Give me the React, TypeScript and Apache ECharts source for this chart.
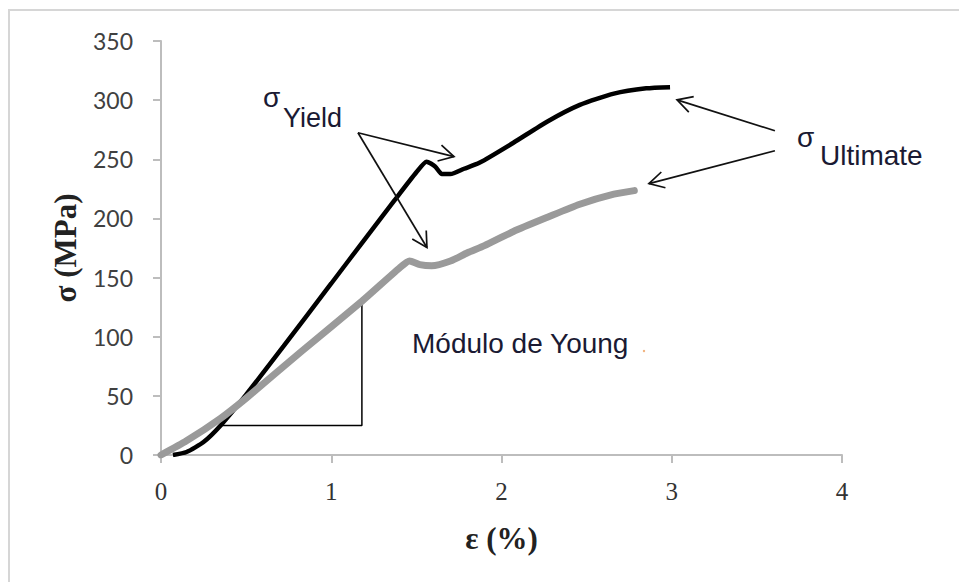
import { useEffect, useRef } from "react";
import * as echarts from "echarts";

// Black curve (higher-strength specimen)
const strainBlack = [0.07, 0.15, 0.25, 0.35, 0.5, 0.72, 1.0, 1.2, 1.37, 1.5, 1.56, 1.61, 1.65, 1.7, 1.78, 1.87, 2.07, 2.27, 2.46, 2.66, 2.85, 2.99];
const stressBlack = [0, 2.5, 11, 25, 51, 92, 145, 183, 215, 239, 248, 244, 237.5, 237.5, 242, 247, 264, 282, 296, 305.5, 310, 311];

// Gray curve (lower-strength specimen)
const strainGray = [0, 0.15, 0.35, 0.5, 0.82, 1.18, 1.4, 1.46, 1.52, 1.59, 1.7, 1.8, 1.9, 2.07, 2.27, 2.46, 2.66, 2.78];
const stressGray = [0, 12, 31, 48, 87, 130, 158, 164, 161, 160, 164, 171, 177, 189, 201, 212, 220.5, 223.5];

// Young's modulus triangle (strain, stress)
const triangleStrain = [0.35, 1.18, 1.18];
const triangleStress = [25, 25, 133];

// Annotation arrows: [fromStrain, fromStress] -> [toStrain, toStress]
const arrowFrom = [
  [1.157, 272.4],
  [1.157, 272.4],
  [3.606, 274.1],
  [3.606, 257.2],
];
const arrowTo = [
  [1.721, 252.2],
  [1.562, 175.4],
  [3.031, 300.2],
  [2.866, 229.4],
];

const xTicks = [0, 1, 2, 3, 4];
const yTicks = [0, 50, 100, 150, 200, 250, 300, 350];

const annColor = "#1a1a33";
const sans = "'Liberation Sans', Arial, sans-serif";

export default function App() {
  const ref = useRef<HTMLDivElement>(null);
  useEffect(() => {
    const chart = echarts.init(ref.current!, null, { renderer: "svg" });
    const pair = (xs: number[], ys: number[]) => xs.map((x, i) => [x, ys[i]]);
    const arrows = arrowFrom.map((f, i) => [f[0], f[1], arrowTo[i][0], arrowTo[i][1]]);
    chart.setOption({
      animation: false,
      backgroundColor: "#ffffff",
      grid: { left: 161, right: 117, top: 41, bottom: 127, outerBoundsMode: "none", containLabel: false },
      xAxis: {
        type: "value",
        min: xTicks[0],
        max: xTicks[xTicks.length - 1],
        interval: 1,
        name: "ε (%)",
        nameLocation: "middle",
        nameGap: 68,
        nameTextStyle: { fontFamily: "'Liberation Serif', serif", fontWeight: "bold", fontSize: 31, color: "#222" },
        axisLine: { show: true, lineStyle: { color: "#bdbdbd", width: 2 } },
        axisTick: { show: true, length: 8, lineStyle: { color: "#bdbdbd", width: 2 } },
        axisLabel: { margin: 24, fontFamily: "'Liberation Serif', serif", fontSize: 25, color: "#333" },
        splitLine: { show: false },
      },
      yAxis: {
        type: "value",
        min: yTicks[0],
        max: yTicks[yTicks.length - 1],
        interval: 50,
        name: "σ (MPa)",
        nameLocation: "middle",
        nameGap: 80,
        nameTextStyle: { fontFamily: "'Liberation Serif', serif", fontWeight: "bold", fontSize: 31, color: "#222" },
        axisLine: { show: true, lineStyle: { color: "#bdbdbd", width: 2 } },
        axisTick: { show: true, length: 8, lineStyle: { color: "#bdbdbd", width: 2 } },
        axisLabel: { margin: 28, fontFamily: "Lato, sans-serif", fontSize: 23, color: "#404040" },
        splitLine: { show: false },
      },
      series: [
        {
          type: "line",
          data: pair(triangleStrain, triangleStress),
          showSymbol: false,
          lineStyle: { color: "#000", width: 1.5 },
          z: 1,
        },
        {
          type: "line",
          data: pair(strainBlack, stressBlack),
          showSymbol: false,
          smooth: 0.2,
          lineStyle: { color: "#000", width: 4.5 },
          z: 2,
        },
        {
          type: "line",
          data: pair(strainGray, stressGray),
          showSymbol: false,
          smooth: 0.2,
          lineStyle: { color: "#9a9a9a", width: 7, cap: "round" },
          z: 3,
        },
        {
          type: "custom",
          data: arrows,
          z: 4,
          clip: false,
          renderItem: (_params: any, api: any) => {
            const p1 = api.coord([api.value(0), api.value(1)]);
            const p2 = api.coord([api.value(2), api.value(3)]);
            const ang = Math.atan2(p2[1] - p1[1], p2[0] - p1[0]);
            const L = 17;
            const a = 0.5;
            const h1 = [p2[0] - L * Math.cos(ang - a), p2[1] - L * Math.sin(ang - a)];
            const h2 = [p2[0] - L * Math.cos(ang + a), p2[1] - L * Math.sin(ang + a)];
            return {
              type: "group",
              children: [
                { type: "line", shape: { x1: p1[0], y1: p1[1], x2: p2[0], y2: p2[1] }, style: { stroke: "#111", lineWidth: 1.7 } },
                { type: "polyline", shape: { points: [h1, p2, h2] }, style: { stroke: "#111", lineWidth: 1.7, fill: null } },
              ],
            };
          },
        },
      ],
      graphic: [
        { type: "rect", shape: { x: 9, y: 10, width: 1000, height: 700 }, style: { fill: "transparent", stroke: "#d6d6d6", lineWidth: 2 }, silent: true },
        { type: "text", x: 263, y: 97.3, style: { text: "σ", font: `28px ${sans}`, fill: annColor, verticalAlign: "middle" } },
        { type: "text", x: 283, y: 117.6, style: { text: "Yield", font: `27px ${sans}`, fill: annColor, verticalAlign: "middle" } },
        { type: "text", x: 797, y: 137.3, style: { text: "σ", font: `28px ${sans}`, fill: annColor, verticalAlign: "middle" } },
        { type: "text", x: 820, y: 155.3, style: { text: "Ultimate", font: `28px ${sans}`, fill: annColor, verticalAlign: "middle" } },
        { type: "text", x: 412, y: 343.3, style: { text: "Módulo de Young", font: `28px ${sans}`, fill: annColor, verticalAlign: "middle" } },
        { type: "circle", shape: { cx: 644, cy: 351, r: 1.2 }, style: { fill: "#f0b07a" } },
      ],
    });
    return () => chart.dispose();
  }, []);
  return (
    <div
      ref={ref}
      style={{ position: "fixed", left: 0, top: 0, width: 959, height: 582, background: "#fff" }}
    />
  );
}
